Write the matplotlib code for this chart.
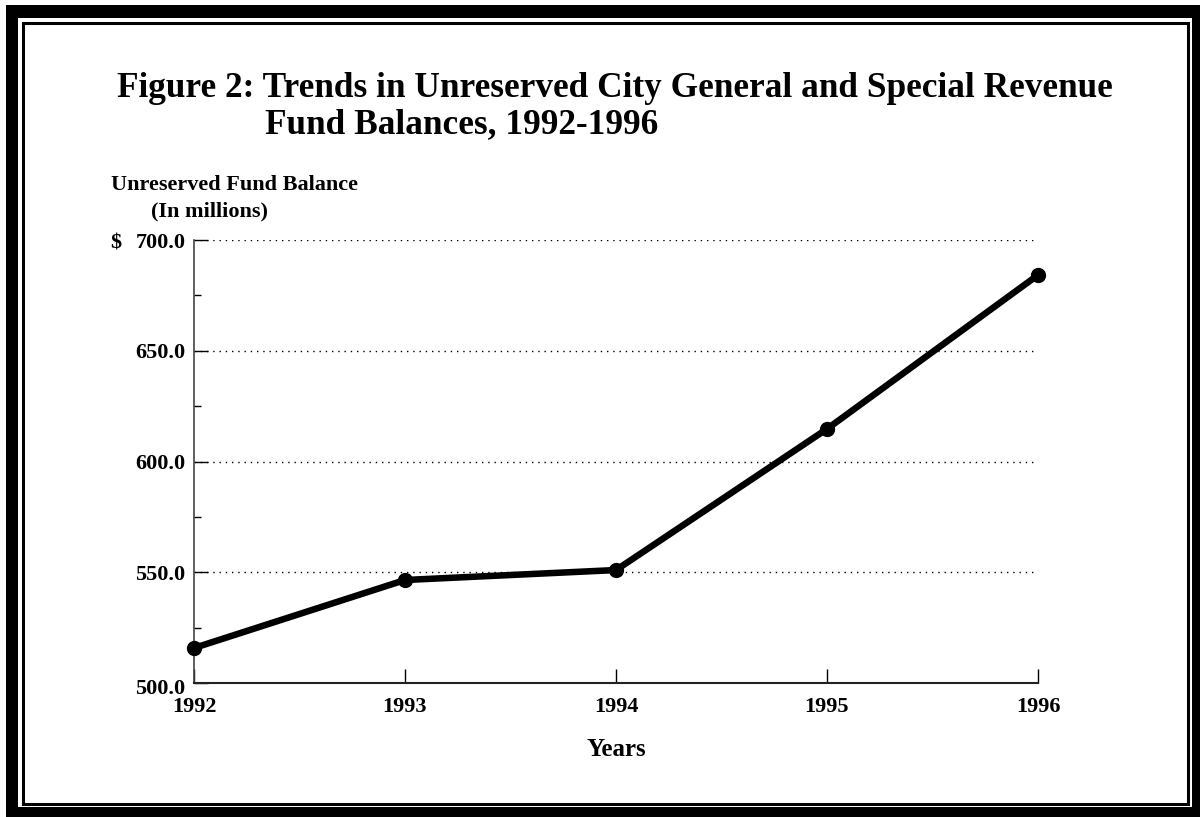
import matplotlib
matplotlib.use("Agg")
import matplotlib.pyplot as plt
import matplotlib.transforms as mtransforms
from matplotlib.patches import Rectangle
from matplotlib.ticker import MultipleLocator

years = [1992, 1993, 1994, 1995, 1996]
balances = [515.8, 546.5, 551.0, 614.7, 684.2]
ytick_vals = [500, 550, 600, 650, 700]
ytick_labels = ["500.0", "550.0", "600.0", "650.0", "700.0"]

W, H = 1200, 817
fig = plt.figure(figsize=(W / 100, H / 100), dpi=100)
plt.rcParams['font.family'] = ['Liberation Serif', 'DejaVu Serif']

def fx(x):
    return x / W

def fy(y):
    return 1 - y / H

# Borders
fig.patches.append(Rectangle((fx(6), fy(817)), fx(1200) - fx(6), fy(5) - fy(817),
                             transform=fig.transFigure, facecolor='black', edgecolor='none', zorder=0))
fig.patches.append(Rectangle((fx(18), fy(807)), fx(1192) - fx(18), fy(18) - fy(807),
                             transform=fig.transFigure, facecolor='white', edgecolor='none', zorder=0))
fig.patches.append(Rectangle((fx(22.5), fy(803.5)), fx(1188.5) - fx(22.5), fy(22.5) - fy(803.5),
                             transform=fig.transFigure, facecolor='none', edgecolor='black',
                             linewidth=2.2, zorder=1))

ax = fig.add_axes([fx(194), fy(683), fx(1038) - fx(194), fy(240) - fy(683)])
ax.set_zorder(3)
ax.set_facecolor('none')
ax.plot(years, balances, color='black', linewidth=4.7, marker='o', markersize=10,
        solid_capstyle='round', zorder=5, clip_on=False)
ax.set_xlim(1992, 1996)
ax.set_ylim(500, 700)

for v in ytick_vals[1:]:
    ax.axhline(v, color='black', linewidth=1.0, linestyle=(0, (1, 3.5)), zorder=1)

ax.set_yticks(ytick_vals)
ax.set_yticklabels(ytick_labels)
ax.yaxis.set_minor_locator(MultipleLocator(25))
ax.set_xticks(years)
ax.set_xticklabels([str(y) for y in years])

for s in ['top', 'right']:
    ax.spines[s].set_visible(False)
ax.spines['left'].set_color('#444444')
ax.spines['bottom'].set_color('#222222')
ax.spines['left'].set_linewidth(1.2)
ax.spines['bottom'].set_linewidth(1.5)

ax.tick_params(axis='y', which='major', direction='in', length=10, width=1, pad=6,
               labelsize=16)
ax.tick_params(axis='y', which='minor', direction='in', length=5, width=1)
ax.tick_params(axis='x', which='major', direction='in', length=10, width=1, pad=10,
               labelsize=16)
for lab in ax.get_xticklabels() + ax.get_yticklabels():
    lab.set_fontweight('bold')

# nudge the bottom y label slightly down as in the reference
lab0 = ax.get_yticklabels()[0]
lab0.set_transform(lab0.get_transform() +
                   mtransforms.ScaledTranslation(0, -3 / 100, fig.dpi_scale_trans))

# Titles and labels
fig.text(fx(117), fy(97), "Figure 2: Trends in Unreserved City General and Special Revenue",
         fontsize=25.4, fontweight='bold', ha='left', va='baseline')
fig.text(fx(265), fy(133), "Fund Balances, 1992-1996",
         fontsize=25.4, fontweight='bold', ha='left', va='baseline')
fig.text(fx(111), fy(190), "Unreserved Fund Balance", fontsize=16, fontweight='bold',
         ha='left', va='baseline')
fig.text(fx(151), fy(216), "(In millions)", fontsize=16, fontweight='bold',
         ha='left', va='baseline')
fig.text(fx(110), fy(248), "$", fontsize=16, fontweight='bold', ha='left', va='baseline')
fig.text(fx(616), fy(756), "Years", fontsize=18, fontweight='bold', ha='center', va='baseline')

fig.savefig("out.png", dpi=100)
